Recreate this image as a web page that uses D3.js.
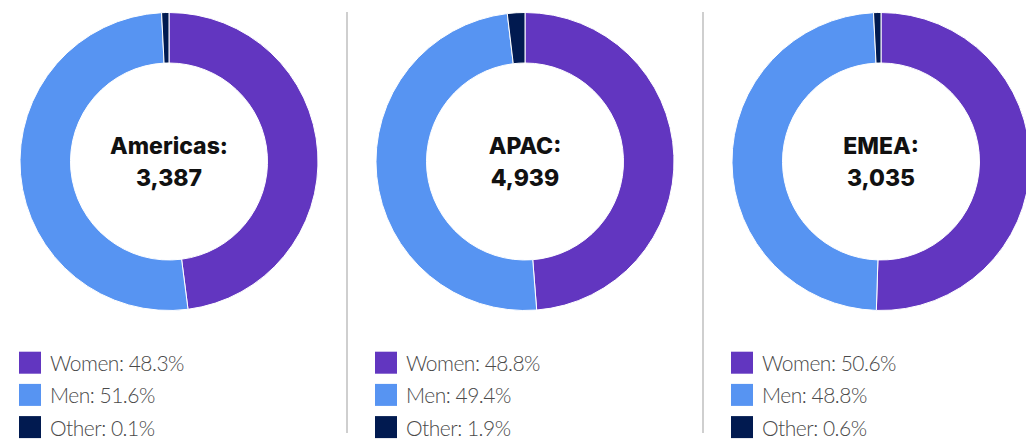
<!DOCTYPE html>
<html>
<head>
<meta charset="utf-8">
<script src="https://cdn.jsdelivr.net/npm/d3@7"></script>
<style>
  body { margin: 0; background: #fff; }
  svg { display: block; }
</style>
</head>
<body>
<div id="chart"></div>
<script>
var regions = ['Americas', 'APAC', 'EMEA'];
var totals = [3387, 4939, 3035];
var groups = ['Women', 'Men', 'Other'];
// share per region, in the order of groups
var shares = [
  [48.3, 51.6, 0.1],
  [48.8, 49.4, 1.9],
  [50.6, 48.8, 0.6]
];
var colors = ['#6236c0', '#5794f2', '#011a50'];

var width = 1026, height = 440;
var panelW = 356;
var outerR = 149, innerR = 98.5;
var minShare = 0.8; // tiny slices get a visible minimum size

var svg = d3.select('#chart').append('svg')
  .attr('width', width)
  .attr('height', height);

var x = d3.scaleBand().domain(regions).range([0, panelW * 3]);
var colour = d3.scaleOrdinal().domain(groups).range(colors);

var pie = d3.pie()
  .sort(null)
  .value(function(d) { return Math.max(d.value, minShare); });

var arc = d3.arc().innerRadius(innerR).outerRadius(outerR);

// dividers between panels
svg.selectAll('line.divider')
  .data(regions.slice(1))
  .enter()
  .append('line')
  .attr('class', 'divider')
  .attr('x1', function(d) { return x(d) - 9; })
  .attr('x2', function(d) { return x(d) - 9; })
  .attr('y1', 12)
  .attr('y2', 433)
  .style('stroke', '#cfcfcf')
  .style('stroke-width', 2);

var panels = svg.selectAll('g.panel')
  .data(regions)
  .enter()
  .append('g')
  .attr('class', 'panel')
  .attr('transform', function(d) { return 'translate(' + x(d) + ',0)'; });

panels.each(function(region, i) {
  var g = d3.select(this);
  var data = groups.map(function(name, j) {
    return {name: name, value: shares[i][j]};
  });

  var donut = g.append('g')
    .attr('transform', 'translate(169,161.5)');

  donut.selectAll('path')
    .data(pie(data))
    .enter()
    .append('path')
    .attr('d', arc)
    .style('fill', function(d) { return colour(d.data.name); })
    .style('stroke', '#fff')
    .style('stroke-width', 1);

  var label = donut.append('text')
    .style('font-family', 'Inter, sans-serif')
    .style('font-weight', 800)
    .style('font-size', '23px')
    .style('fill', '#111')
    .style('text-anchor', 'middle');
  label.append('tspan').attr('x', 0).attr('y', -8).text(region + ':');
  label.append('tspan').attr('x', 0).attr('y', 24.5).text(d3.format(',')(totals[i]));

  var legend = g.selectAll('g.legend')
    .data(data)
    .enter()
    .append('g')
    .attr('class', 'legend')
    .attr('transform', function(d, j) { return 'translate(19,' + (351.7 + j * 32.2) + ')'; });

  legend.append('rect')
    .attr('width', 22)
    .attr('height', 22)
    .style('fill', function(d) { return colour(d.name); });

  legend.append('text')
    .attr('x', 31)
    .attr('y', 19.5)
    .style('font-family', 'Lato, sans-serif')
    .style('font-weight', 300)
    .style('font-size', '21px')
    .style('letter-spacing', '-0.5px')
    .style('fill', '#4a4a4a')
    .text(function(d) { return d.name + ': ' + d.value.toFixed(1) + '%'; });
});
</script>
</body>
</html>
